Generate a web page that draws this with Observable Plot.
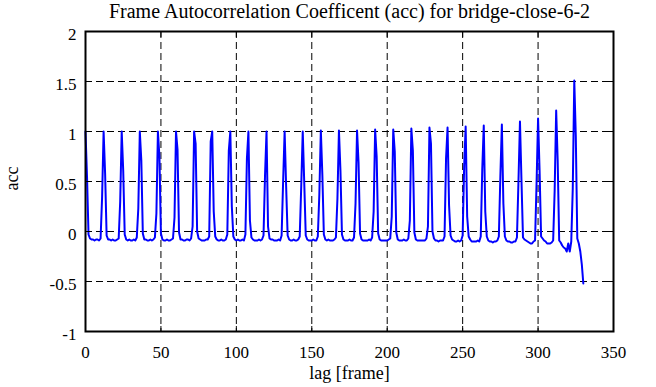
<!DOCTYPE html>
<html><head><meta charset="utf-8">
<script src="https://cdn.jsdelivr.net/npm/d3@7"></script>
<script src="https://cdn.jsdelivr.net/npm/@observablehq/plot@0.6"></script>
<style>
body{margin:0;background:#fff}
#chart svg, #chart svg text { font-family: "Liberation Serif", "Times New Roman", Times, serif !important; }
</style>
</head><body><div id="chart"></div>
<script>
const titleText = "Frame Autocorrelation Coefficent (acc) for bridge-close-6-2";
const xLabel = "lag [frame]";
const yLabel = "acc";
const xTicks = [0, 50, 100, 150, 200, 250, 300, 350];
const xTickLabels = ["0", "50", "100", "150", "200", "250", "300", "350"];
const yTicks = [-1, -0.5, 0, 0.5, 1, 1.5, 2];
const yTickLabels = ["-1", "-0.5", "0", "0.5", "1", "1.5", "2"];

// acc value for each lag 0..330 (one row per 12 lags)
const acc = [
 1.00, 0.55,-0.03,-0.07,-0.08,-0.08,-0.09,-0.08,-0.08,-0.09,-0.07, 0.34,
 1.00, 0.58,-0.04,-0.08,-0.08,-0.09,-0.08,-0.09,-0.09,-0.08,-0.07, 0.30,
 1.00, 0.61,-0.03,-0.08,-0.09,-0.08,-0.09,-0.09,-0.08,-0.09,-0.06, 0.23,
 1.00, 0.71,-0.02,-0.08,-0.08,-0.09,-0.09,-0.08,-0.09,-0.08,-0.06, 0.18,
 1.00, 0.75,-0.02,-0.08,-0.09,-0.09,-0.08,-0.09,-0.09,-0.08,-0.07, 0.14,
 1.00, 0.82,-0.01,-0.08,-0.08,-0.09,-0.09,-0.08,-0.08,-0.09,-0.07, 0.05,
 1.00, 0.88, 0.00,-0.07,-0.08,-0.09,-0.09,-0.09,-0.08,-0.08,-0.05, 0.90,
 1.00, 0.20,-0.05,-0.08,-0.09,-0.09,-0.08,-0.09,-0.09,-0.08,-0.03, 0.81,
 1.00, 0.25,-0.05,-0.08,-0.09,-0.08,-0.09,-0.09,-0.08,-0.09,-0.03, 0.73,
 1.00, 0.11,-0.06,-0.08,-0.09,-0.09,-0.09,-0.08,-0.09,-0.08,-0.04, 0.56,
 1.00, 0.05,-0.07,-0.08,-0.08,-0.09,-0.09,-0.09,-0.08,-0.09,-0.04, 0.50,
 1.00, 0.45,-0.04,-0.08,-0.09,-0.09,-0.08,-0.09,-0.09,-0.08,-0.05, 0.45,
 1.00, 0.49,-0.04,-0.08,-0.09,-0.09,-0.09,-0.08,-0.09,-0.09,-0.05, 0.37,
 1.01, 0.57,-0.03,-0.08,-0.09,-0.08,-0.09,-0.09,-0.09,-0.08,-0.06, 0.33,
 1.01, 0.61,-0.03,-0.08,-0.09,-0.09,-0.09,-0.08,-0.09,-0.09,-0.06, 0.28,
 1.01, 0.69,-0.02,-0.08,-0.09,-0.09,-0.09,-0.09,-0.08,-0.09,-0.06, 0.20,
 1.02, 0.75,-0.02,-0.08,-0.09,-0.09,-0.09,-0.09,-0.09,-0.08,-0.07, 0.15,
 1.02, 0.80,-0.01,-0.08,-0.09,-0.09,-0.09,-0.08,-0.09,-0.09,-0.07, 0.11,
 1.03, 0.81,-0.01,-0.08,-0.09,-0.09,-0.09,-0.09,-0.09,-0.09,-0.07, 0.05,
 1.04, 0.88, 0.00,-0.07,-0.09,-0.09,-0.10,-0.09,-0.09,-0.09,-0.05, 0.73,
 1.04, 0.26,-0.04,-0.08,-0.09,-0.10,-0.10,-0.09,-0.10,-0.09,-0.04, 0.65,
 1.05, 0.15,-0.05,-0.08,-0.10,-0.10,-0.10,-0.10,-0.09,-0.10,-0.05, 0.62,
 1.06, 0.20,-0.05,-0.09,-0.10,-0.10,-0.11,-0.10,-0.10,-0.09,-0.05, 0.55,
 1.07, 0.28,-0.05,-0.09,-0.10,-0.10,-0.11,-0.11,-0.10,-0.10,-0.06, 0.50,
 1.10, 0.51,-0.06,-0.08,-0.09,-0.10,-0.11,-0.12,-0.12,-0.10,-0.09, 0.48,
 1.13, 0.61,-0.05,-0.07,-0.09,-0.10,-0.12,-0.12,-0.12,-0.11,-0.09, 0.41,
 1.21, 0.71,-0.09,-0.11,-0.14,-0.16,-0.17,-0.20,-0.12,-0.20,-0.10, 0.43,
 1.51, 0.96,-0.07,-0.12,-0.20,-0.33,-0.52
];
const data = acc.map((v, i) => ({lag: i, acc: v}));

const font = "Liberation Serif";
const gridStyle = {stroke: "black", strokeOpacity: 1, strokeWidth: 1, strokeDasharray: "7,4"};

const chart = Plot.plot({
  width: 656,
  height: 387,
  marginTop: 31,
  marginBottom: 56,
  marginLeft: 85,
  marginRight: 43,
  style: {fontFamily: font, fontSize: "17px", background: "white", color: "black"},
  x: {domain: [0, 350]},
  y: {domain: [-1, 2]},
  marks: [
    Plot.gridX(xTicks.slice(1, -1), gridStyle),
    Plot.gridY(yTicks.slice(1, -1), gridStyle),
    Plot.line(data, {x: "lag", y: "acc", stroke: "#0000ff", strokeWidth: 2}),
    Plot.axisX(xTicks, {anchor: "bottom", tickSize: 5, dy: -5, fill: "none", label: null}),
    Plot.axisX(xTicks, {anchor: "top", tickSize: 5, dy: 5, fill: "none", label: null}),
    Plot.axisY(yTicks, {anchor: "left", tickSize: 5, dx: 5, fill: "none", label: null}),
    Plot.axisY(yTicks, {anchor: "right", tickSize: 5, dx: -5, fill: "none", label: null}),
    Plot.axisX(xTicks, {anchor: "bottom", tickSize: 0, tickPadding: 14, fontSize: 17, fontFamily: font, fill: "black", label: null,
      tickFormat: d => xTickLabels[xTicks.indexOf(d)]}),
    Plot.axisY(yTicks, {anchor: "left", tickSize: 0, tickPadding: 9, dy: 3, fontSize: 17, fontFamily: font, fill: "black", label: null,
      tickFormat: d => yTickLabels[yTicks.indexOf(d)]}),
    Plot.frame({stroke: "black", strokeWidth: 2}),
    Plot.text([titleText], {frameAnchor: "top", lineAnchor: "bottom", dy: -14, fontSize: 20, fontFamily: font, fill: "black"}),
    Plot.text([xLabel], {frameAnchor: "bottom", lineAnchor: "bottom", dy: 47, fontSize: 18, fontFamily: font, fill: "black"}),
    Plot.text([yLabel], {frameAnchor: "left", rotate: -90, dx: -73, dy: 9, fontSize: 18, fontFamily: font, fill: "black"})
  ]
});
document.getElementById("chart").appendChild(chart);
</script>
</body></html>
